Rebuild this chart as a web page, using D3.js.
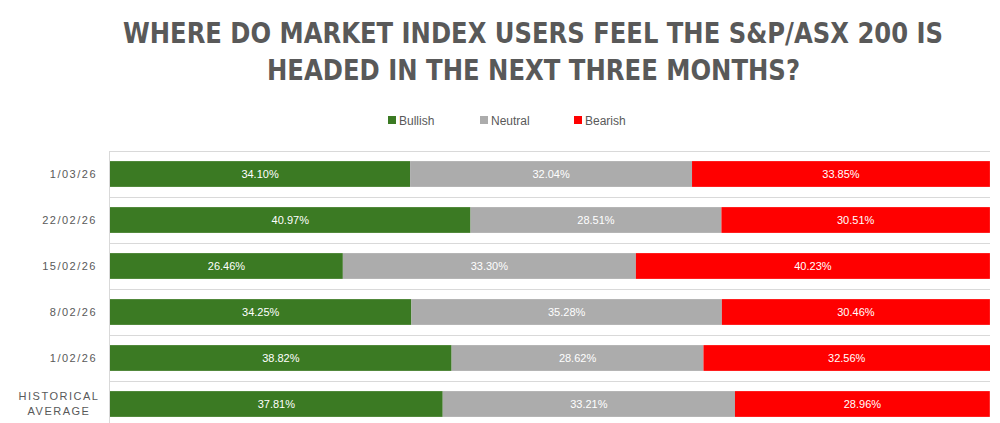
<!DOCTYPE html>
<html><head><meta charset="utf-8">
<script src="https://cdn.jsdelivr.net/npm/d3@7"></script>
<style>body{margin:0;background:#fff}svg{display:block}</style>
</head><body><svg id="c" width="1000" height="423"></svg>
<script>
const categories = ["1/03/26","22/02/26","15/02/26","8/02/26","1/02/26","HISTORICAL AVERAGE"];
const bullish = [34.10,40.97,26.46,34.25,38.82,37.81];
const neutral = [32.04,28.51,33.30,35.28,28.62,33.21];
const bearish = [33.85,30.51,40.23,30.46,32.56,28.96];
const seriesNames = ["Bullish","Neutral","Bearish"];
const colors = ["#3b7a23","#acacac","#ff0000"];

const svg = d3.select("#c");
const x = d3.scaleLinear().domain([0,100]).range([110,990]);
const y = d3.scaleBand().domain(categories).range([151,427]).paddingInner(0.44).paddingOuter(0.22);

// title
const title = svg.append("g").attr("font-family","'DejaVu Sans Condensed','DejaVu Sans',sans-serif")
  .attr("font-weight","bold").attr("fill","#595959").attr("font-size",28).attr("text-anchor","start");
title.append("text").attr("x",123).attr("y",43).attr("textLength",820).attr("lengthAdjust","spacingAndGlyphs")
  .text("WHERE DO MARKET INDEX USERS FEEL THE S&P/ASX 200 IS");
title.append("text").attr("x",267).attr("y",80).attr("textLength",533).attr("lengthAdjust","spacingAndGlyphs")
  .text("HEADED IN THE NEXT THREE MONTHS?");

// legend
const legX = [388,480,574];
const leg = svg.append("g").attr("font-family","'Liberation Sans',Arial,sans-serif").attr("font-size",12).attr("fill","#595959");
seriesNames.forEach((s,i)=>{
  leg.append("rect").attr("x",legX[i]).attr("y",116).attr("width",8).attr("height",8).attr("fill",colors[i]);
  leg.append("text").attr("x",legX[i]+11).attr("y",124.5).text(s);
});

// gridlines at band boundaries
const step = y.step();
const grid = svg.append("g");
categories.forEach(c=>{
  const yy = y(c) - y.paddingOuter()*step + 0.5;
  grid.append("line").attr("x1",110).attr("x2",990).attr("y1",yy).attr("y2",yy).attr("stroke","#d9d9d9").attr("stroke-width",1);
});

// stacked bars
const rows = categories.map((c,i)=>({cat:c, vals:[bullish[i],neutral[i],bearish[i]]}));
const g = svg.append("g");
rows.forEach(r=>{
  let acc = 0;
  r.vals.forEach((v,k)=>{
    g.append("rect").attr("x",x(acc)).attr("y",y(r.cat)).attr("width",x(acc+v)-x(acc)).attr("height",y.bandwidth()).attr("fill",colors[k]);
    g.append("text").attr("x",(x(acc)+x(acc+v))/2).attr("y",y(r.cat)+y.bandwidth()/2+4)
      .attr("text-anchor","middle").attr("fill","#fff").attr("font-size",11)
      .attr("font-family","'Liberation Sans',Arial,sans-serif").text(v.toFixed(2)+"%");
    acc += v;
  });
});

// y axis line
svg.append("line").attr("x1",109.5).attr("x2",109.5).attr("y1",151).attr("y2",423).attr("stroke","#d9d9d9");

// y labels
const yl = svg.append("g").attr("font-family","'Liberation Sans',Arial,sans-serif").attr("font-size",11)
  .attr("fill","#595959").attr("text-anchor","end").attr("letter-spacing","1.5px");
categories.forEach(c=>{
  const cy = y(c)+y.bandwidth()/2;
  if(c==="HISTORICAL AVERAGE"){
    yl.append("text").attr("x",59).attr("y",cy-4).attr("text-anchor","middle").text("HISTORICAL");
    yl.append("text").attr("x",59).attr("y",cy+11).attr("text-anchor","middle").text("AVERAGE");
  } else {
    yl.append("text").attr("x",97).attr("y",cy+4).text(c);
  }
});
</script></body></html>
